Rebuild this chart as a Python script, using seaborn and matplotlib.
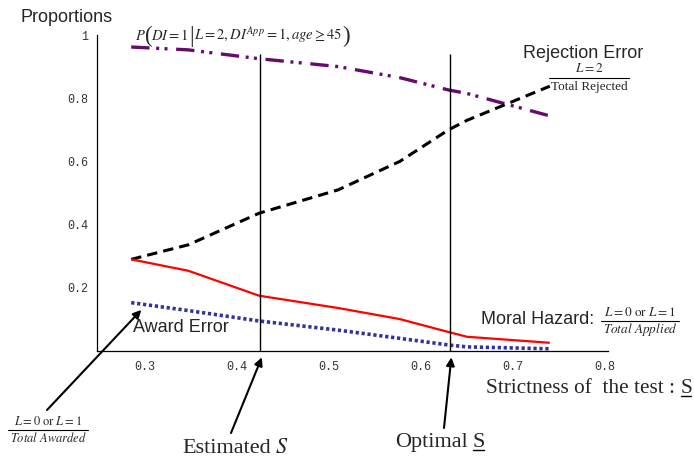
import numpy as np
import pandas as pd
import matplotlib
matplotlib.use("Agg")
import matplotlib.pyplot as plt
import seaborn as sns
from matplotlib.lines import Line2D
from matplotlib.ticker import MultipleLocator, FixedLocator, FixedFormatter

# ---------------- data ----------------
strictness = [0.285, 0.347, 0.424, 0.51, 0.577, 0.63, 0.65, 0.74]
prob_di = [0.962, 0.953, 0.925, 0.900, 0.865, 0.826, 0.815, 0.744]
rejection_error = [0.29, 0.336, 0.436, 0.51, 0.60, 0.70, 0.73, 0.838]
moral_hazard = [0.29, 0.254, 0.175, 0.136, 0.101, 0.06, 0.045, 0.026]
award_error = [0.153, 0.128, 0.095, 0.066, 0.040, 0.019, 0.013, 0.007]

estimated_S = 0.425
optimal_S = 0.631
vline_top = 0.94

x_ticks = [0.3, 0.4, 0.5, 0.6, 0.7, 0.8]
x_ticklabels = ["0.3", "0.4", "0.5", "0.6", "0.7", "0.8"]
y_ticks = [0.2, 0.4, 0.6, 0.8, 1.0]
y_ticklabels = ["0.2", "0.4", "0.6", "0.8", "1"]

series_names = ["prob", "reject", "moral", "award"]

df = pd.concat([
    pd.DataFrame({"S": strictness, "value": prob_di, "series": "prob"}),
    pd.DataFrame({"S": strictness, "value": rejection_error, "series": "reject"}),
    pd.DataFrame({"S": strictness, "value": moral_hazard, "series": "moral"}),
    pd.DataFrame({"S": strictness, "value": award_error, "series": "award"}),
], ignore_index=True)

# ---------------- style ----------------
sns.set_style("white")
plt.rcParams["font.family"] = ["Liberation Sans", "DejaVu Sans"]
plt.rcParams["mathtext.fontset"] = "stix"

W, H = 694, 458
fig = plt.figure(figsize=(W / 100, H / 100), dpi=100)
ax_left, ax_right = 97, 608
ax_bottom_px, ax_top_px = 351, 35
ax = fig.add_axes([ax_left / W, (H - ax_bottom_px) / H,
                   (ax_right - ax_left) / W, (ax_bottom_px - ax_top_px) / H])
ax.set_facecolor("white")

palette = {"prob": "#660a6e", "reject": "#000000", "moral": "#ff0000", "award": "#333399"}
dashes = {"prob": (5.5, 2.0, 0.9, 1.6, 0.9, 2.6),
          "reject": (3.4, 2.0),
          "moral": "",
          "award": (0.9, 0.75)}
sizes = {"prob": 2.4, "reject": 2.2, "moral": 1.6, "award": 2.6}

sns.lineplot(data=df, x="S", y="value", hue="series", style="series", size="series",
             hue_order=series_names, style_order=series_names, size_order=series_names,
             palette=palette, dashes=dashes, sizes=sizes, legend=False,
             estimator=None, sort=True, ax=ax)
for ln in ax.lines:
    ln.set_dash_capstyle("butt")
    ln.set_solid_capstyle("butt")

ax.vlines([estimated_S, optimal_S], 0, vline_top, colors="black", linewidth=1.0)

# ---------------- axes ----------------
x0 = 0.3 - (145 - ax_left) / 920.0
x1 = x0 + (ax_right - ax_left) / 920.0
ax.set_xlim(x0, x1)
ax.set_ylim(0, 1.0)
for s in ["top", "right"]:
    ax.spines[s].set_visible(False)
for s in ["left", "bottom"]:
    ax.spines[s].set_color("black")
    ax.spines[s].set_linewidth(0.9)

ax.xaxis.set_major_locator(FixedLocator(x_ticks))
ax.xaxis.set_major_formatter(FixedFormatter(x_ticklabels))
ax.xaxis.set_minor_locator(MultipleLocator(0.02))
ax.yaxis.set_major_locator(FixedLocator(y_ticks))
ax.yaxis.set_major_formatter(FixedFormatter(y_ticklabels))
ax.yaxis.set_minor_locator(MultipleLocator(0.05))
ax.tick_params(axis="both", which="major", direction="in", length=4.5, width=0.8,
               color="black", labelsize=8.5, labelcolor="#333333")
ax.tick_params(axis="both", which="minor", direction="in", length=2.5, width=0.7, color="black")
ax.tick_params(axis="x", which="major", pad=7)
ax.tick_params(axis="y", which="major", pad=6)
for lab in ax.get_xticklabels() + ax.get_yticklabels():
    lab.set_family(["Liberation Mono", "DejaVu Sans Mono"])
ax.set_xlabel("")
ax.set_ylabel("")
ax.grid(False)

renderer = fig.canvas.get_renderer()
serif = ["Liberation Serif", "DejaVu Serif"]


def fx(px):
    return px / W


def fy(py):
    return 1 - py / H


def width_px(t):
    return t.get_window_extent(renderer).width


def seq_text(x_px, base_px, pieces, align="left"):
    """pieces: (text, size, family, dy_px, gap_after_px). Placed along a baseline."""
    objs = []
    for txt, size, fam, dy, gap in pieces:
        t = fig.text(0, 0, txt, fontsize=size, family=fam, ha="left", va="baseline")
        objs.append((t, dy, gap))
    widths = [width_px(t) for t, _, _ in objs]
    total = sum(widths) + sum(g for _, _, g in objs[:-1])
    if align == "center":
        x = x_px - total / 2
    elif align == "right":
        x = x_px - total
    else:
        x = x_px
    spans = []
    for (t, dy, gap), w in zip(objs, widths):
        t.set_position((fx(x), fy(base_px + dy)))
        spans.append((x, x + w))
        x += w + gap
    return spans


def underline(span, y_px, lw=1.0):
    fig.add_artist(Line2D([fx(span[0] + 1), fx(span[1] - 1)], [fy(y_px), fy(y_px)],
                          color="black", linewidth=lw, transform=fig.transFigure))


def frac(cx, cy, num, den, size, gap=9):
    tn = fig.text(fx(cx), fy(cy - gap), num, fontsize=size, ha="center", va="center",
                  family=serif)
    td = fig.text(fx(cx), fy(cy + gap), den, fontsize=size, ha="center", va="center",
                  family=serif)
    w = max(width_px(tn), width_px(td)) + 3
    fig.add_artist(Line2D([fx(cx - w / 2), fx(cx + w / 2)], [fy(cy), fy(cy)],
                          color="black", linewidth=0.8, transform=fig.transFigure))


# ---------------- texts ----------------
fig.text(fx(20), fy(18), "Proportions", ha="left", va="center", fontsize=13)

big = 16.5
small = 10.5
seq_text(135, 40, [
    (r"$P$", small, serif, 0, -1),
    ("(", big, serif, 2, -1),
    (r"$DI=1$", small, serif, 0, 0),
    ("|", big, serif, 2, 0),
    (r"$L=2,DI^{App}=1,age\geq 45$", small, serif, 0, 0),
    (")", big, serif, 2, 0),
])

fig.text(fx(523), fy(53), "Rejection Error", ha="left", va="center", fontsize=13)
frac(589, 78, r"$L=2$", "Total Rejected", 9.5)

fig.text(fx(133), fy(327), "Award Error", ha="left", va="center", fontsize=13)
fig.text(fx(481), fy(320), "Moral Hazard:", ha="left", va="center", fontsize=13)
frac(640, 321, r"$L=0\ \mathrm{or}\ L=1$", r"$Total\ Applied$", 9.5)
frac(48, 430, r"$L=0\ \mathrm{or}\ L=1$", r"$Total\ Awarded$", 9, gap=8.5)

sp = seq_text(692, 393, [
    ("Strictness of  the test :", 15.3, serif, 0, 5),
    ("S", 15.3, serif, 0, 0),
], align="right")
underline(sp[-1], 396)

seq_text(235, 453, [
    ("Estimated", 16, serif, 0, 4),
    (r"$S$", 16, serif, 0, 0),
], align="center")

sp = seq_text(440, 447, [
    ("Optimal", 16, serif, 0, 4),
    ("S", 16, serif, 0, 0),
], align="center")
underline(sp[-1], 450)

# ---------------- arrows ----------------
arrow_kw = dict(arrowstyle="-|>", color="black", lw=1.5, mutation_scale=12,
                shrinkA=0, shrinkB=0)
ax.annotate("", xy=(0.296, 0.13), xycoords="data",
            xytext=(47, H - 410), textcoords="figure pixels",
            arrowprops=arrow_kw, annotation_clip=False)
ax.annotate("", xy=(estimated_S + 0.002, -0.02), xycoords="data",
            xytext=(231, H - 433), textcoords="figure pixels",
            arrowprops=arrow_kw, annotation_clip=False)
ax.annotate("", xy=(optimal_S + 0.002, -0.02), xycoords="data",
            xytext=(444, H - 428), textcoords="figure pixels",
            arrowprops=arrow_kw, annotation_clip=False)

fig.savefig("out.png", dpi=100, facecolor="white")
